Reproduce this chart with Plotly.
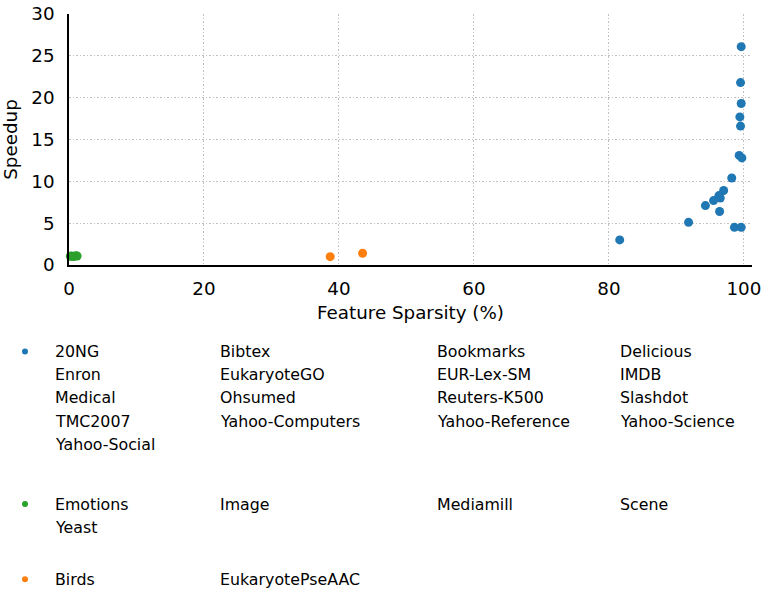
import plotly.graph_objects as go

# ---- data ----
sparse_x = [99.6, 99.5, 99.6, 99.4, 99.5, 99.3, 99.7, 98.2, 97.0, 96.3, 96.5, 95.5, 94.3, 96.4, 91.8, 98.6, 99.6, 81.6]
sparse_y = [26.1, 21.8, 19.3, 17.7, 16.6, 13.1, 12.8, 10.4, 8.9, 8.3, 8.0, 7.7, 7.1, 6.4, 5.1, 4.5, 4.5, 3.0]
dense_x = [0.2, 0.4, 0.7, 1.0, 1.2]
dense_y = [1.05, 1.08, 1.02, 1.1, 1.08]
mid_x = [38.7, 43.5]
mid_y = [1.0, 1.4]

sparse_names = ["20NG", "Bibtex", "Bookmarks", "Delicious", "Enron", "EukaryoteGO",
                "EUR-Lex-SM", "IMDB", "Medical", "Ohsumed", "Reuters-K500", "Slashdot",
                "TMC2007", "Yahoo-Computers", "Yahoo-Reference", "Yahoo-Science", "Yahoo-Social"]
dense_names = ["Emotions", "Image", "Mediamill", "Scene", "Yeast"]
mid_names = ["Birds", "EukaryotePseAAC"]

x_ticks = [0, 20, 40, 60, 80, 100]
y_ticks = [0, 5, 10, 15, 20, 25, 30]

BLUE, GREEN, ORANGE = "#1f77b4", "#2ca02c", "#ff7f0e"
FONT = "DejaVu Sans"

fig = go.Figure()
fig.add_trace(go.Scatter(x=dense_x, y=dense_y, mode="markers",
                         marker=dict(color=GREEN, size=9), showlegend=False, cliponaxis=False))
fig.add_trace(go.Scatter(x=mid_x, y=mid_y, mode="markers",
                         marker=dict(color=ORANGE, size=9), showlegend=False, cliponaxis=False))
fig.add_trace(go.Scatter(x=sparse_x, y=sparse_y, mode="markers",
                         marker=dict(color=BLUE, size=9), showlegend=False, cliponaxis=False))

W, H = 765, 590
PL, PR, PT, PB = 69, 752, 14, 265
L, R, T, B = PL, W - PR, PT, H - PB
pw, ph = PR - PL, PB - PT

def px(xp):
    return (xp - PL) / pw

def py(yp):
    return (PB - yp) / ph

col_x = [54, 219, 436, 619]
row_h = 23.2
annotations = []
shapes = []

def add_group(names, y0, color):
    for i, n in enumerate(names):
        r, c = divmod(i, 4)
        annotations.append(dict(x=px(col_x[c]), y=py(y0 + r * row_h), xref="paper", yref="paper",
                                text=n, showarrow=False, xanchor="left", yanchor="middle",
                                xshift=-1, font=dict(family=FONT, size=15.8, color="#000")))
    cx, cy = 25, y0
    shapes.append(dict(type="circle", xref="paper", yref="paper",
                       x0=px(cx - 3), x1=px(cx + 3), y0=py(cy + 3), y1=py(cy - 3),
                       fillcolor=color, line=dict(width=0)))

add_group(sparse_names, 351.5, BLUE)
add_group(dense_names, 504, GREEN)
add_group(mid_names, 579.3, ORANGE)

GRID = dict(showgrid=True, gridcolor="#c0c0c0", griddash="1.5px,2px", gridwidth=1.3)

fig.update_layout(
    width=W, height=H,
    margin=dict(l=L, r=R, t=T, b=B, autoexpand=False),
    plot_bgcolor="white", paper_bgcolor="white",
    font=dict(family=FONT, size=18.3, color="#000"),
    annotations=annotations, shapes=shapes,
    xaxis=dict(range=[0, 101.2], tickvals=x_ticks, showline=True, linecolor="#000", linewidth=1.5,
               zeroline=False, ticks="", ticklabelstandoff=6, automargin=False, **GRID,
               title=dict(text="Feature Sparsity (%)", standoff=8, font=dict(size=18.3))),
    yaxis=dict(range=[0, 30], tickvals=y_ticks, showline=True, linecolor="#000", linewidth=1.5,
               zeroline=False, ticks="", ticklabelstandoff=9, automargin=False, **GRID,
               title=dict(text="Speedup", standoff=13, font=dict(size=18.3))),
)

fig.write_html("out.html", config={"displayModeBar": False},
               post_script="document.body.style.margin='0';")
